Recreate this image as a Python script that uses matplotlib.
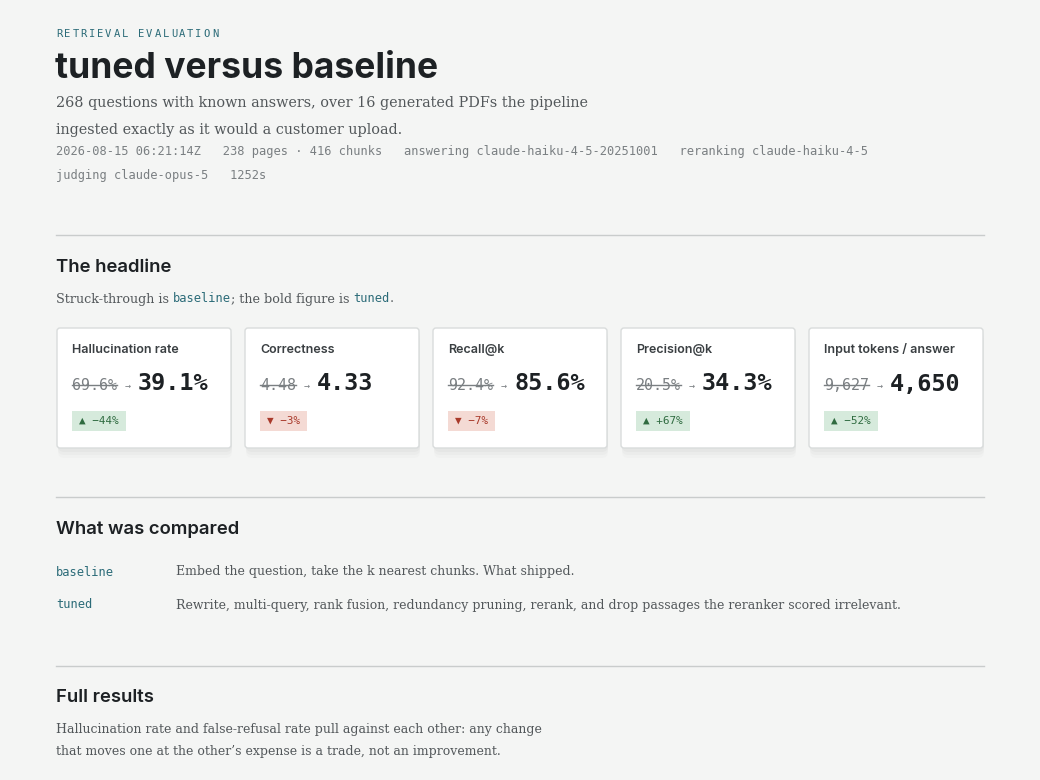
import matplotlib
matplotlib.use("Agg")
import matplotlib.pyplot as plt
from matplotlib.patches import FancyBboxPatch, Rectangle

BG = "#f4f5f4"
TEAL = "#2b6b78"
INK = "#1d2124"
GREY = "#7a7f82"
SANS = ["Inter", "DejaVu Sans"]
SERIF = ["DejaVu Serif"]
MONO = ["DejaVu Sans Mono"]

eyebrow = "RETRIEVAL EVALUATION"
title = "tuned versus baseline"
subtitle = ["268 questions with known answers, over 16 generated PDFs the pipeline",
            "ingested exactly as it would a customer upload."]
meta = ["2026-08-15 06:21:14Z   238 pages · 416 chunks   answering claude-haiku-4-5-20251001   reranking claude-haiku-4-5",
        "judging claude-opus-5   1252s"]

card_labels = ["Hallucination rate", "Correctness", "Recall@k", "Precision@k", "Input tokens / answer"]
card_old = ["69.6%", "4.48", "92.4%", "20.5%", "9,627"]
card_new = ["39.1%", "4.33", "85.6%", "34.3%", "4,650"]
card_delta = ["▲ −44%", "▼ −3%", "▼ −7%", "▲ +67%", "▲ −52%"]
card_good = [True, False, False, True, True]

variants = ["baseline", "tuned"]
variant_desc = ["Embed the question, take the k nearest chunks. What shipped.",
                "Rewrite, multi-query, rank fusion, redundancy pruning, rerank, and drop passages the reranker scored irrelevant."]
full_text = ["Hallucination rate and false-refusal rate pull against each other: any change",
             "that moves one at the other\u2019s expense is a trade, not an improvement."]

fig = plt.figure(figsize=(10.4, 7.8), dpi=100, facecolor=BG)
ax = fig.add_axes([0, 0, 1, 1])
ax.set_xlim(0, 1040)
ax.set_ylim(780, 0)
ax.axis("off")
fig.canvas.draw()
R = fig.canvas.get_renderer()


def px(p):
    return p * 72 / 100


def txt(x, y, s, size, family, color=INK, weight="normal", **kw):
    return ax.text(x, y, s, fontsize=px(size), family=family, color=color,
                   weight=weight, va="center", ha="left", **kw)


def run(x, y, parts):
    for s, size, fam, col, w in parts:
        t = txt(x, y, s, size, fam, col, w)
        x = t.get_window_extent(R).x1
    return x


# header
for i, ch in enumerate(eyebrow):
    txt(56 + i * 8.2, 34, ch, 10.5, MONO, TEAL)
txt(55, 68, title, 35.5, SANS, INK, "bold")
txt(56, 103, subtitle[0], 14.4, SERIF, "#52575a")
txt(56, 130, subtitle[1], 14.4, SERIF, "#52575a")
txt(56, 152, meta[0], 12, MONO, GREY)
txt(56, 176, meta[1], 12, MONO, GREY)

for y in (235, 497, 666):
    ax.plot([56, 984], [y, y], color="#c9cccc", lw=1)

# headline
txt(56, 267, "The headline", 18.5, SANS, INK, "semibold")
run(56, 299, [("Struck-through is ", 12.8, SERIF, "#52575a", "normal"),
              ("baseline", 12, MONO, TEAL, "normal"),
              ("; the bold figure is ", 12.8, SERIF, "#52575a", "normal"),
              ("tuned", 12, MONO, TEAL, "normal"),
              (".", 12.8, SERIF, "#52575a", "normal")])

for i in range(len(card_labels)):
    x0 = 57 + i * 188
    for k, a in enumerate((0.025, 0.02, 0.015)):
        ax.add_patch(FancyBboxPatch((x0 + 1, 330 + k * 3), 174, 122, boxstyle="round,pad=0,rounding_size=6",
                                    fc="black", ec="none", alpha=a, zorder=1))
    ax.add_patch(FancyBboxPatch((x0, 328), 174, 120, boxstyle="round,pad=0,rounding_size=3",
                                fc="white", ec="#d9dcdc", lw=1, zorder=2))
    txt(x0 + 15, 350, card_labels[i], 12.5, SANS, "#3a3f42", "semibold", zorder=3)
    t = txt(x0 + 15, 385, card_old[i], 15, MONO, GREY, zorder=3)
    bb = t.get_window_extent(R)
    ax.plot([bb.x0, bb.x1], [385, 385], color=GREY, lw=1, zorder=4)
    a = txt(bb.x1 + 8, 386, "→", 10, MONO, GREY, zorder=3)
    txt(a.get_window_extent(R).x1 + 7, 384, card_new[i], 23.5, MONO, INK, "bold", zorder=3)
    fc, col = ("#d6eadc", "#2f6b40") if card_good[i] else ("#f4dad4", "#a93a2b")
    d = txt(x0 + 22, 421, card_delta[i], 11, MONO, col, zorder=4)
    w = d.get_window_extent(R).width
    ax.add_patch(Rectangle((x0 + 15, 411), w + 14, 20, fc=fc, ec="none", zorder=3))

# compared
txt(56, 529, "What was compared", 18.5, SANS, INK, "semibold")
for j, (v, dsc) in enumerate(zip(variants, variant_desc)):
    y = 572 + j * 33
    txt(56, y, v, 12, MONO, TEAL)
    txt(176, y, dsc, 12.5, SERIF, "#52575a")

# full results
txt(56, 698, "Full results", 18.5, SANS, INK, "semibold")
txt(56, 729, full_text[0], 12.5, SERIF, "#52575a")
txt(56, 752, full_text[1], 12.5, SERIF, "#52575a")

fig.savefig("out.png", dpi=100, facecolor=BG)
